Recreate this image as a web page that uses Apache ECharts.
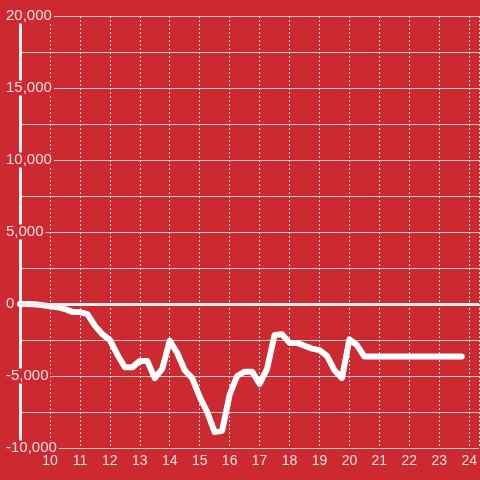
<!DOCTYPE html>
<html>
<head>
<meta charset="utf-8">
<script src="https://cdn.jsdelivr.net/npm/echarts@6/dist/echarts.min.js"></script>
<style>
html,body{margin:0;padding:0;background:#cc2a30;}
#chart{width:480px;height:480px;}
</style>
</head>
<body>
<div id="chart"></div>
<script>
var times = [9,9.25,9.5,9.75,10,10.25,10.5,10.75,11,11.25,11.5,11.75,12,12.25,12.5,12.75,
  13,13.25,13.5,13.75,14,14.25,14.5,14.75,15,15.25,15.5,15.75,16,16.25,16.5,16.75,
  17,17.25,17.5,17.75,18,18.25,18.5,18.75,19,19.25,19.5,19.75,20,20.25,20.5,20.75,
  21,21.25,21.5,21.75,22,22.25,22.5,22.75,23,23.25,23.5,23.75];
var values = [0,0,-20,-80,-150,-220,-350,-550,-560,-700,-1500,-2100,-2500,-3500,-4400,-4400,
  -3950,-3950,-5150,-4500,-2550,-3400,-4600,-5150,-6450,-7500,-8900,-8800,-6300,-5000,-4700,-4700,
  -5550,-4500,-2150,-2100,-2700,-2700,-2900,-3100,-3200,-3600,-4600,-5150,-2450,-2850,-3650,-3650,
  -3650,-3650,-3650,-3650,-3650,-3650,-3650,-3650,-3650,-3650,-3650,-3650];
var xTicks = [10,11,12,13,14,15,16,17,18,19,20,21,22,23,24];
var yTicks = [-10000,-5000,0,5000,10000,15000,20000];

var chart = echarts.init(document.getElementById('chart'));
var pts = times.map(function(t,i){return [t, values[i]];});
function fmt(v){
  var s = Math.abs(v).toString().replace(/\B(?=(\d{3})+(?!\d))/g, ',');
  return (v < 0 ? '-' : '') + s;
}
chart.setOption({
  backgroundColor: '#cc2a30',
  animation: false,
  grid: {left: 20, right: 0, top: 16, bottom: 32, containLabel: false},
  xAxis: {
    type: 'value', min: 9, max: 24.333, interval: 1,
    axisLine: {show: false}, axisTick: {show: false},
    axisLabel: {
      color: '#f0dede', fontSize: 14, fontFamily: 'Liberation Sans', margin: 6,
      showMaxLabel: false, showMinLabel: false,
      formatter: function(v){ return xTicks.indexOf(v) >= 0 ? String(v) : ''; }
    },
    splitLine: {show: true, lineStyle: {color: '#e8dcdc', width: 1, type: [2,2]}}
  },
  yAxis: {
    type: 'value', min: -10000, max: 20000, interval: 5000,
    axisLine: {show: true, lineStyle: {color: '#eeeeee', width: 3}},
    axisTick: {show: false},
    axisLabel: {
      color: '#f0dede', fontSize: 15, fontFamily: 'Liberation Sans',
      align: 'left', margin: 16, padding: [0,2,0,2], backgroundColor: '#cc2a30',
      formatter: function(v){ return yTicks.indexOf(v) >= 0 ? fmt(v) : ''; }
    },
    splitLine: {show: true, lineStyle: {color: '#c8c8c8', width: 1}},
    minorTick: {show: false, splitNumber: 2},
    minorSplitLine: {show: true, lineStyle: {color: '#c8c8c8', width: 1}}
  },
  series: [{
    type: 'line', data: pts, showSymbol: false, smooth: false,
    lineStyle: {color: '#ffffff', width: 6, cap: 'round', join: 'round'},
    emphasis: {disabled: true},
    markLine: {
      silent: true, symbol: 'none', label: {show: false},
      lineStyle: {color: '#eeeeee', width: 3, type: 'solid'},
      emphasis: {disabled: true},
      data: [{yAxis: 0}]
    },
    z: 3
  }]
});
</script>
</body>
</html>
